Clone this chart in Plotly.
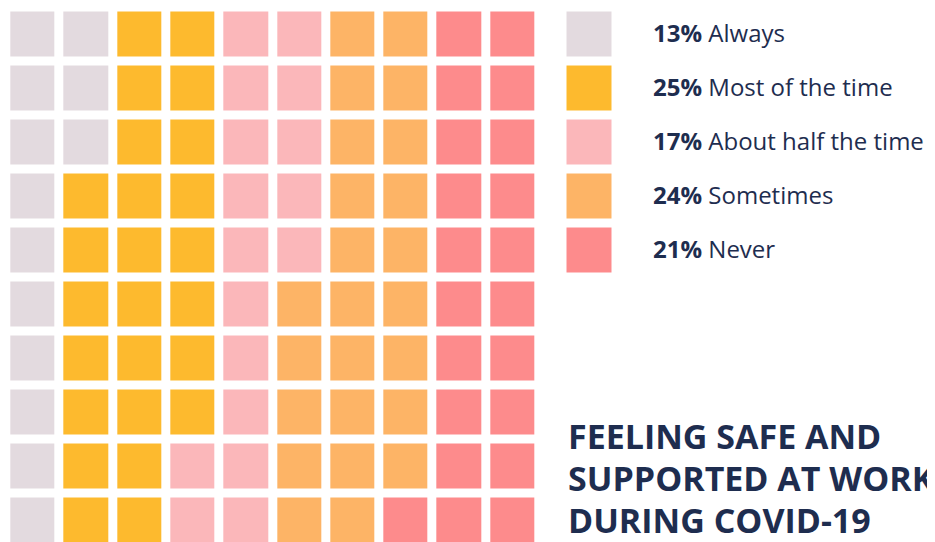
import plotly.graph_objects as go

# survey answers, percent of respondents (one cell = 1%)
labels = ["Always", "Most of the time", "About half the time", "Sometimes", "Never"]
percents = [13, 25, 17, 24, 21]
colors = ["#e3dadf", "#fdba2e", "#fbb7ba", "#fdb466", "#fd8b8c"]
title_lines = ["FEELING SAFE AND", "SUPPORTED AT WORK", "DURING COVID-19"]

# page body has an 8px margin, so the figure is a bit smaller than the window
OFF = 8
W, H = 935 - OFF, 542 - OFF
NAVY = "#1e2d4f"
FONT = "Open Sans"

# waffle grid, filled column by column, top to bottom
n_rows, n_cols = 10, 10
seq = []
for i, p in enumerate(percents):
    seq += [i] * p
z = [[seq[c * n_rows + r] for c in range(n_cols)] for r in range(n_rows)]

# discrete colour scale
n = len(colors)
scale = []
for i, col in enumerate(colors):
    scale.append([i / n, col])
    scale.append([(i + 1) / n, col])

fig = go.Figure()
fig.add_trace(go.Heatmap(
    z=z, x=list(range(n_cols)), y=list(range(n_rows)),
    colorscale=scale, zmin=-0.5, zmax=n - 0.5, showscale=False,
    xgap=9, ygap=9, hoverinfo="skip", xaxis="x", yaxis="y"))

# legend swatches
fig.add_trace(go.Heatmap(
    z=[[i] for i in range(n)], x=[0], y=list(range(n)),
    colorscale=scale, zmin=-0.5, zmax=n - 0.5, showscale=False,
    xgap=9, ygap=9, hoverinfo="skip", xaxis="x2", yaxis="y2"))

pitch_x, pitch_y = 53.3, 54
left, top = 6.3, 7.5  # window px of the outer edge of the first cell slot
y_top = -0.5 + (OFF - top) / pitch_y
y_bot = -0.5 + (542 - top) / pitch_y
leg_bot = top + n * pitch_y

ax = dict(visible=False, showgrid=False, zeroline=False, fixedrange=True)
fig.update_layout(
    width=W, height=H, margin=dict(l=0, r=0, t=0, b=0),
    paper_bgcolor="white", plot_bgcolor="white", showlegend=False,
    xaxis=dict(ax, domain=[0, (left + n_cols * pitch_x - OFF) / W],
               range=[-0.5 + (OFF - left) / pitch_x, n_cols - 0.5]),
    yaxis=dict(ax, domain=[0, 1], range=[y_bot, y_top]),
    xaxis2=dict(ax, domain=[(562.5 - OFF) / W, (616.5 - OFF) / W], range=[-0.5, 0.5]),
    yaxis2=dict(ax, domain=[1 - (leg_bot - OFF) / H, 1], range=[n - 0.5, y_top]),
)

for i, (p, lab) in enumerate(zip(percents, labels)):
    fig.add_annotation(
        x=643 / W, xref="paper", y=i, yref="y2", xanchor="left", yanchor="middle",
        yshift=2, text=f"<b>{p}%</b> {lab}", showarrow=False,
        font=dict(family=FONT, size=24, color=NAVY))

for k, line in enumerate(title_lines):
    fig.add_annotation(
        x=558 / W, xref="paper", y=1 - (428 + k * 42) / H, yref="paper",
        xanchor="left", yanchor="middle", text=f"<b>{line}</b>", showarrow=False,
        font=dict(family=FONT, size=34, color=NAVY))

fig.write_html("out.html")
